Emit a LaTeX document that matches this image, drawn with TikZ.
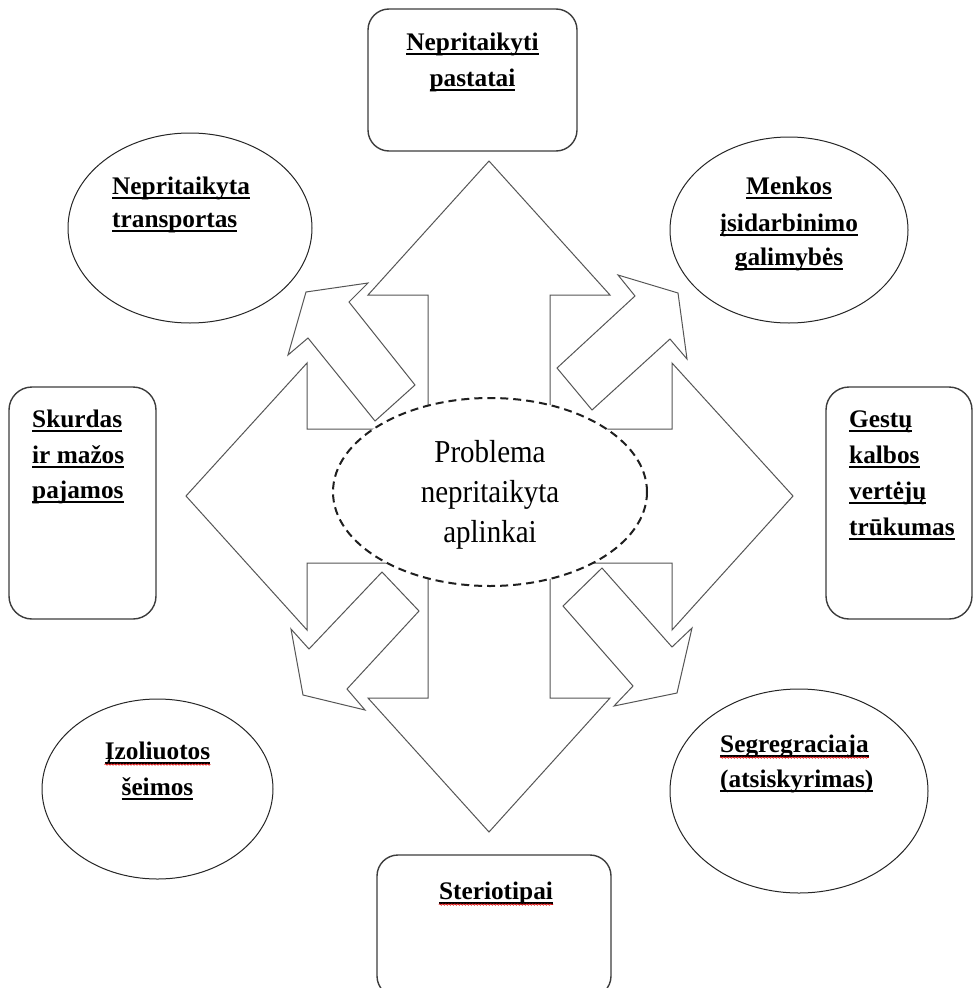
\documentclass[tikz,border=0pt]{standalone}
\usepackage{fontspec}
\usepackage{graphicx}
\setmainfont{Liberation Serif}
\usetikzlibrary{shapes.geometric,decorations.pathmorphing}
\definecolor{edgegray}{HTML}{555555}
\definecolor{boxgray}{HTML}{3C3C3C}
\newsavebox\ulbox
\newcommand\ulw[1]{\sbox\ulbox{#1}\rlap{\rule[-5.2pt]{\wd\ulbox}{2.4pt}}\usebox\ulbox}
\newcommand\tallt[1]{\scalebox{1}[1.1]{#1}}
\begin{document}
\begin{tikzpicture}[x=1pt,y=-1pt,
  arrowshape/.style={draw=edgegray,line width=1pt,fill=white,line join=miter},
  boxnode/.style={draw=boxgray,line width=1.4pt,rounded corners=21pt,fill=white,inner sep=0pt,rectangle},
  ovalnode/.style={draw=black!85,line width=1pt,ellipse,fill=white,inner sep=0pt},
  centreoval/.style={draw=black!88,line width=2pt,dash pattern=on 8pt off 5pt,ellipse,fill=white,inner sep=0pt},
  lab/.style={font=\fontsize{25.3}{30}\selectfont\bfseries,inner sep=0pt,anchor=base},
  labl/.style={lab,anchor=base west},
  ctext/.style={font=\fontsize{29}{34}\selectfont,inner sep=0pt,anchor=base},
  redwave/.style={draw=red!85!black,line width=0.7pt,decorate,decoration={snake,amplitude=0.7pt,segment length=3pt}}]
\useasboundingbox (0,0) rectangle (973,988);
\clip (0,0) rectangle (973,988);

% big four-way arrow
\draw[arrowshape] (428,429) -- (428,295) -- (368,295) -- (489,161) -- (610,295) -- (550,295)
  -- (550,429) -- (672,429) -- (672,363) -- (793,496) -- (672,630) -- (672,563)
  -- (550,563) -- (550,698) -- (610,698) -- (489,832) -- (368,698) -- (428,698)
  -- (428,563) -- (307,563) -- (307,630) -- (186,496) -- (307,363) -- (307,429) -- cycle;

% diagonal arrows
\draw[arrowshape] (306,292) -- (368,283) -- (349,302) -- (415,385) -- (375,421) -- (308,338) -- (288,355) -- cycle;
\draw[arrowshape] (618,275) -- (678,293) -- (687,359) -- (670,339) -- (592,410) -- (557,368) -- (635,296) -- cycle;
\draw[arrowshape] (382,572) -- (419,611) -- (347,689) -- (365,710) -- (303,695) -- (291,629) -- (309,649) -- cycle;
\draw[arrowshape] (602,568) -- (672,647) -- (692,628) -- (677,693) -- (614,706) -- (633,686) -- (563,606) -- cycle;

% centre
\node[centreoval,minimum width=314pt,minimum height=188pt] (centre) at (490,492) {};
\node[ctext] (c1) at (490,462) {\tallt{Problema}};
\node[ctext] (c2) at (490,502) {\tallt{nepritaikyta}};
\node[ctext] (c3) at (490,542) {\tallt{aplinkai}};

% boxes
\node[boxnode,minimum width=209pt,minimum height=142pt] (bTop) at (472.5,80) {};
\node[boxnode,minimum width=147pt,minimum height=232pt,rounded corners=23pt] (bLeft) at (82.5,503) {};
\node[boxnode,minimum width=146pt,minimum height=232pt,rounded corners=23pt] (bRight) at (899,503) {};
\node[boxnode,minimum width=234pt,minimum height=142pt] (bBottom) at (494,926) {};

% ovals
\node[ovalnode,minimum width=244pt,minimum height=190pt] (eUL) at (190,228) {};
\node[ovalnode,minimum width=238pt,minimum height=186pt] (eUR) at (789,230) {};
\node[ovalnode,minimum width=231pt,minimum height=180pt] (eLL) at (157.5,789) {};
\node[ovalnode,minimum width=258pt,minimum height=204pt] (eLR) at (799,791) {};

% labels
\node[lab] (tTop1) at (472.5,50) {\ulw{Nepritaikyti}};
\node[lab] (tTop2) at (472.5,86) {\ulw{pastatai}};

\node[labl] (tL1) at (32,427) {\ulw{Skurdas}};
\node[labl] (tL2) at (32,463) {\ulw{ir mažos}};
\node[labl] (tL3) at (32,498) {\ulw{pajamos}};

\node[labl] (tR1) at (849,427) {\ulw{Gestų}};
\node[labl] (tR2) at (849,463) {\ulw{kalbos}};
\node[labl] (tR3) at (849,499) {\ulw{vertėjų}};
\node[labl] (tR4) at (849,535) {\ulw{trūkumas}};

\node[lab] (tB1) at (496,899) {\ulw{Steriotipai}};

\node[labl] (tUL1) at (112,194) {\ulw{Nepritaikyta}};
\node[labl] (tUL2) at (112,227) {\ulw{transportas}};

\node[lab] (tUR1) at (789,194) {\ulw{Menkos}};
\node[lab] (tUR2) at (789,231) {\ulw{įsidarbinimo}};
\node[lab] (tUR3) at (789,265) {\ulw{galimybės}};

\node[lab] (tLL1) at (157.5,759) {\ulw{Įzoliuotos}};
\node[lab] (tLL2) at (157.5,795) {\ulw{šeimos}};

\node[labl] (tLR1) at (720,752) {\ulw{Segregraciaja}};
\node[labl] (tLR2) at (720,787) {\ulw{(atsiskyrimas)}};

% spell-check marks
\draw[redwave] ([yshift=-5.5pt]tB1.base west) -- ([yshift=-5.5pt]tB1.base east);
\draw[redwave] ([yshift=-5.5pt]tLL1.base west) -- ([yshift=-5.5pt]tLL1.base east);
\draw[redwave] ([yshift=-5.5pt]tLR1.base west) -- ([yshift=-5.5pt]tLR1.base east);
\end{tikzpicture}
\end{document}
